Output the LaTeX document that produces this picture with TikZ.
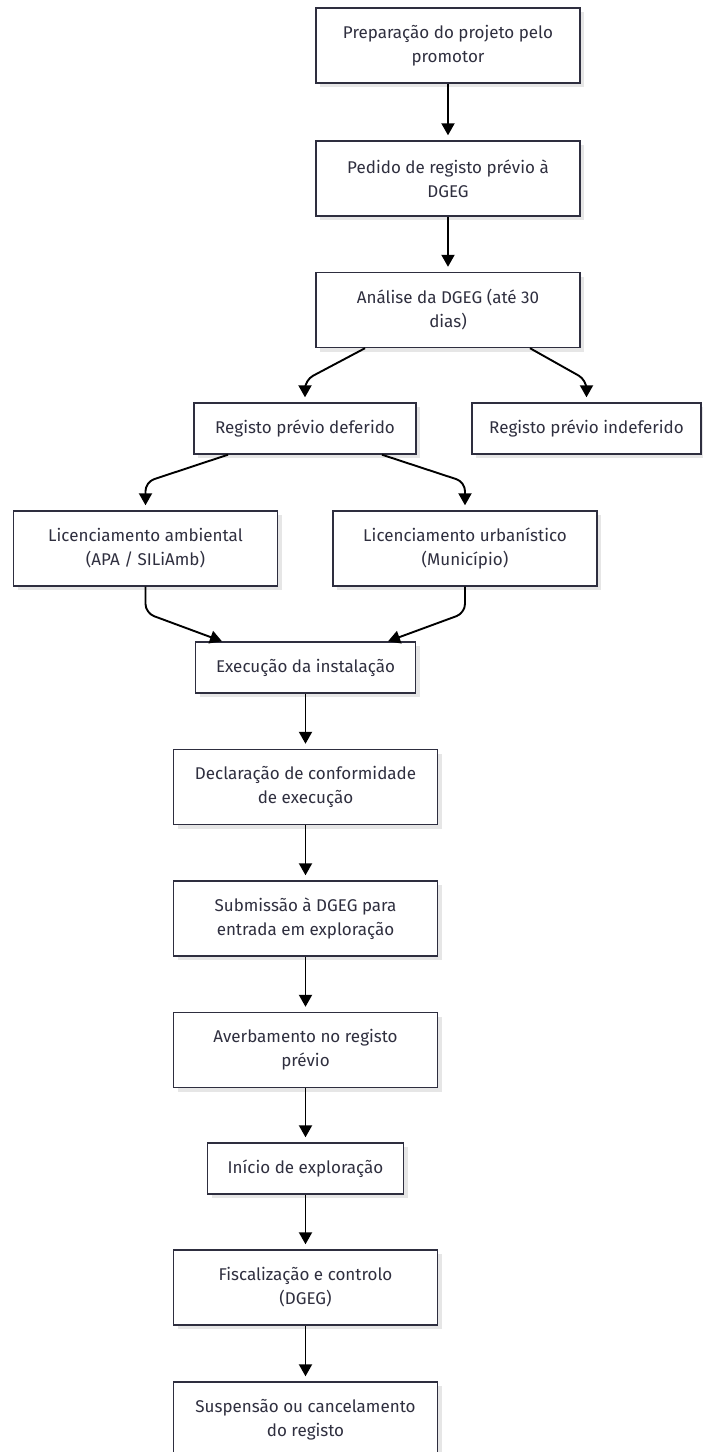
\documentclass[tikz,border=0pt]{standalone}
\usepackage{fontspec}
\setmainfont{Fira Sans}
\usetikzlibrary{arrows.meta,shadows}
\definecolor{boxline}{HTML}{2E2E3F}
\definecolor{boxtext}{HTML}{2F2F3F}
\definecolor{shadowc}{HTML}{E6E6E6}
\tikzset{
  procbox/.style={draw=boxline, line width=1.4pt, fill=white, align=center,
    text=boxtext, font=\fontsize{17}{24}\selectfont, inner sep=0pt,
    minimum width=264pt, minimum height=75pt,
    drop shadow={shadow xshift=4pt, shadow yshift=-4pt, fill=shadowc, opacity=1}},
  smallbox/.style={procbox, minimum height=51pt},
  flow/.style={line width=1.9pt, draw=black, rounded corners=9pt,
    -{Triangle[length=12pt,width=13pt]}, shorten >=5pt}
}
\begin{document}
\begin{tikzpicture}[x=1pt,y=-1pt]
\useasboundingbox (0,0) rectangle (702,1452);
\node[procbox] (prep) at (448,45.5) {Preparação do projeto pelo\\promotor};
\node[procbox] (ped) at (448,178.5) {Pedido de registo prévio à\\DGEG};
\node[procbox] (ana) at (448,310) {Análise da DGEG (até 30\\dias)};
\node[smallbox, minimum width=222pt] (def) at (305,428.5) {Registo prévio deferido};
\node[smallbox, minimum width=229pt] (ind) at (586.5,428.5) {Registo prévio indeferido};
\node[procbox] (amb) at (145.5,548.5) {Licenciamento ambiental\\(APA / SILiAmb)};
\node[procbox] (urb) at (465,548.5) {Licenciamento urbanístico\\(Município)};
\node[smallbox, minimum width=220pt] (exe) at (305.5,667.5) {Execução da instalação};
\node[procbox] (dec) at (305.5,787) {Declaração de conformidade\\de execução};
\node[procbox] (sub) at (305.5,918.5) {Submissão à DGEG para\\entrada em exploração};
\node[procbox] (ave) at (305.5,1050) {Averbamento no registo\\prévio};
\node[smallbox, minimum width=196pt] (ini) at (305.5,1168.5) {Início de exploração};
\node[procbox] (fis) at (305.5,1287.5) {Fiscalização e controlo\\(DGEG)};
\node[procbox] (sus) at (305.5,1419.5) {Suspensão ou cancelamento\\do registo};

\draw[flow] (prep.south) -- (ped.north);
\draw[flow] (ped.south) -- (ana.north);
\draw[flow] (ana.south -| 365,0) -- (305,380) -- (def.north);
\draw[flow] (ana.south -| 530,0) -- (586.5,380) -- (ind.north);
\draw[flow] (def.south -| 228,0) -- (145.5,482) -- (amb.north);
\draw[flow] (def.south -| 382,0) -- (465,482) -- (urb.north);
\draw[flow, shorten >=0pt] (amb.south) -- (145.5,613) -- (exe.north -| 222,0);
\draw[flow, shorten >=0pt] (urb.south) -- (465,613) -- (exe.north -| 388,0);
\draw[flow] (exe.south) -- (dec.north);
\draw[flow] (dec.south) -- (sub.north);
\draw[flow] (sub.south) -- (ave.north);
\draw[flow] (ave.south) -- (ini.north);
\draw[flow] (ini.south) -- (fis.north);
\draw[flow] (fis.south) -- (sus.north);
\end{tikzpicture}
\end{document}
